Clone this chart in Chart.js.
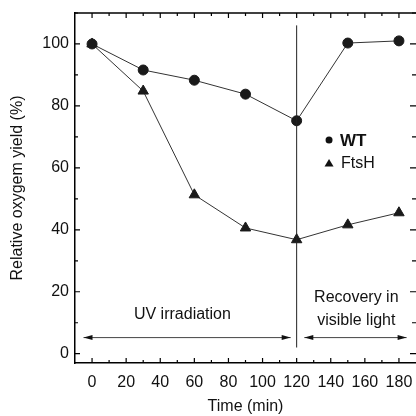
<!DOCTYPE html>
<html lang="en">
  <head>
    <meta charset="UTF-8" />
    <title>Relative oxygen yield</title>
    <script src="https://cdn.jsdelivr.net/npm/chart.js"></script>
    <style>
      html, body { margin: 0; padding: 0; background: #fff; }
      #wrap { width: 416px; height: 416px; }
    </style>
  </head>
  <body>
    <div id="wrap"><canvas id="oxyChart"></canvas></div>

    <script>
      // data
      const times = [0, 30, 60, 90, 120, 150, 180];
      const wtYield = [100, 91.6, 88.3, 83.8, 75.2, 100.3, 101];
      const ftshYield = [100, 84.8, 51.3, 40.6, 36.8, 41.6, 45.5];
      const xTicks = [0, 20, 40, 60, 80, 100, 120, 140, 160, 180];
      const yTicks = [0, 20, 40, 60, 80, 100];
      const switchTime = 120; // UV off, recovery starts

      const FONT = "'Liberation Sans', Arial, sans-serif";

      // inward ticks on all four sides, top frame, divider line, arrows, labels, legend
      const decorPlugin = {
        id: "decor",
        afterDraw(chart) {
          const ctx = chart.ctx;
          const a = chart.chartArea;
          const xs = chart.scales.x;
          const ys = chart.scales.y;
          ctx.save();

          // frame top (right edge falls at the canvas border)
          ctx.strokeStyle = "#000";
          ctx.lineWidth = 1.5;
          ctx.beginPath();
          ctx.moveTo(a.left, a.top);
          ctx.lineTo(a.right, a.top);
          ctx.stroke();

          // ticks
          ctx.lineWidth = 1.2;
          ctx.beginPath();
          const xMinor = xTicks.slice(0, -1).map((v, i) => (v + xTicks[i + 1]) / 2);
          xMinor.push(xTicks[xTicks.length - 1] + 10);
          const yMinor = yTicks.slice(0, -1).map((v, i) => (v + yTicks[i + 1]) / 2);
          yMinor.push(yTicks[yTicks.length - 1] + 10);
          xTicks.forEach((v) => {
            const p = xs.getPixelForValue(v);
            ctx.moveTo(p, a.bottom); ctx.lineTo(p, a.bottom - 5);
            ctx.moveTo(p, a.top); ctx.lineTo(p, a.top + 5);
          });
          xMinor.forEach((v) => {
            const p = xs.getPixelForValue(v);
            if (p > a.right - 2) return;
            ctx.moveTo(p, a.bottom); ctx.lineTo(p, a.bottom - 3);
            ctx.moveTo(p, a.top); ctx.lineTo(p, a.top + 3);
          });
          yTicks.forEach((v) => {
            const p = ys.getPixelForValue(v);
            ctx.moveTo(a.left, p); ctx.lineTo(a.left + 5, p);
            ctx.moveTo(a.right, p); ctx.lineTo(a.right - 6, p);
          });
          yMinor.forEach((v) => {
            const p = ys.getPixelForValue(v);
            if (p < a.top) return;
            ctx.moveTo(a.left, p); ctx.lineTo(a.left + 3, p);
            ctx.moveTo(a.right, p); ctx.lineTo(a.right - 4, p);
          });
          ctx.stroke();

          // divider at 120 min
          const xs120 = xs.getPixelForValue(switchTime);
          ctx.strokeStyle = "#222";
          ctx.lineWidth = 1;
          ctx.beginPath();
          ctx.moveTo(xs120, ys.getPixelForValue(106));
          ctx.lineTo(xs120, ys.getPixelForValue(2));
          ctx.stroke();

          // double arrows
          const ay = ys.getPixelForValue(5.2);
          function arrow(x1, x2) {
            ctx.strokeStyle = "#444";
            ctx.fillStyle = "#111";
            ctx.lineWidth = 1;
            ctx.beginPath();
            ctx.moveTo(x1, ay); ctx.lineTo(x2, ay);
            ctx.stroke();
            [[x1, 1], [x2, -1]].forEach(([x, d]) => {
              ctx.beginPath();
              ctx.moveTo(x, ay);
              ctx.lineTo(x + d * 9, ay - 2.5);
              ctx.lineTo(x + d * 9, ay + 2.5);
              ctx.closePath();
              ctx.fill();
            });
          }
          arrow(xs.getPixelForValue(-5), xs.getPixelForValue(116.5));
          arrow(xs.getPixelForValue(124.5), xs.getPixelForValue(184.5));

          // region labels
          ctx.fillStyle = "#111";
          ctx.font = "16px " + FONT;
          ctx.textAlign = "center";
          ctx.textBaseline = "middle";
          ctx.fillText("UV irradiation", xs.getPixelForValue(53), ys.getPixelForValue(12.6));
          ctx.fillText("Recovery in", xs.getPixelForValue(155), ys.getPixelForValue(18));
          ctx.fillText("visible light", xs.getPixelForValue(155), ys.getPixelForValue(10.6));

          // legend
          const lx = xs.getPixelForValue(139);
          const ly1 = ys.getPixelForValue(69);
          const ly2 = ys.getPixelForValue(61.6);
          ctx.fillStyle = "#111";
          ctx.beginPath();
          ctx.arc(lx, ly1, 3.5, 0, Math.PI * 2);
          ctx.fill();
          ctx.beginPath();
          ctx.moveTo(lx, ly2 - 4);
          ctx.lineTo(lx + 4.5, ly2 + 3.5);
          ctx.lineTo(lx - 4.5, ly2 + 3.5);
          ctx.closePath();
          ctx.fill();
          ctx.textAlign = "left";
          ctx.font = "bold 17px " + FONT;
          ctx.fillText("WT", lx + 11, ly1 + 1);
          ctx.font = "16px " + FONT;
          ctx.fillText("FtsH", lx + 12, ly2 + 1);

          ctx.restore();
        },
      };

      const ctx = document.getElementById("oxyChart").getContext("2d");
      new Chart(ctx, {
        type: "line",
        data: {
          datasets: [
            {
              label: "WT",
              data: times.map((t, i) => ({ x: t, y: wtYield[i] })),
              borderColor: "#333",
              borderWidth: 1,
              pointStyle: "circle",
              pointRadius: 5,
              pointBackgroundColor: "#1a1a1a",
              pointBorderColor: "#1a1a1a",
            },
            {
              label: "FtsH",
              data: times.map((t, i) => ({ x: t, y: ftshYield[i] })),
              borderColor: "#333",
              borderWidth: 1,
              pointStyle: "triangle",
              pointRadius: 6,
              pointBackgroundColor: "#1a1a1a",
              pointBorderColor: "#1a1a1a",
            },
          ],
        },
        options: {
          responsive: true,
          maintainAspectRatio: false,
          animation: false,
          layout: { autoPadding: false, padding: { top: 13, right: 0, left: 0, bottom: 0 } },
          plugins: {
            legend: { display: false },
            tooltip: { enabled: false },
          },
          scales: {
            x: {
              type: "linear",
              min: -10,
              max: 190,
              afterBuildTicks: (s) => { s.ticks = xTicks.map((v) => ({ value: v })); },
              afterFit: (s) => { s.height = 53; s.paddingLeft = 0; s.paddingRight = 0; },
              grid: { display: false, drawTicks: false },
              border: { display: true, color: "#000", width: 1.5 },
              ticks: {
                padding: 10,
                color: "#111",
                maxRotation: 0,
                font: { family: FONT, size: 16 },
              },
              title: {
                display: true,
                text: "Time (min)",
                color: "#111",
                padding: { top: 0, bottom: 0 },
                font: { family: FONT, size: 16 },
              },
            },
            y: {
              min: -3,
              max: 110,
              afterBuildTicks: (s) => { s.ticks = yTicks.map((v) => ({ value: v })); },
              afterFit: (s) => { s.width = 75; s.paddingTop = 0; s.paddingBottom = 0; },
              grid: { display: false, drawTicks: false },
              border: { display: true, color: "#000", width: 1.5 },
              ticks: {
                padding: 6,
                color: "#111",
                font: { family: FONT, size: 16 },
              },
              title: {
                display: true,
                text: "Relative oxygem yield (%)",
                color: "#111",
                padding: { top: 8, bottom: 0 },
                font: { family: FONT, size: 16 },
              },
            },
          },
        },
        plugins: [decorPlugin],
      });
    </script>
  </body>
</html>
